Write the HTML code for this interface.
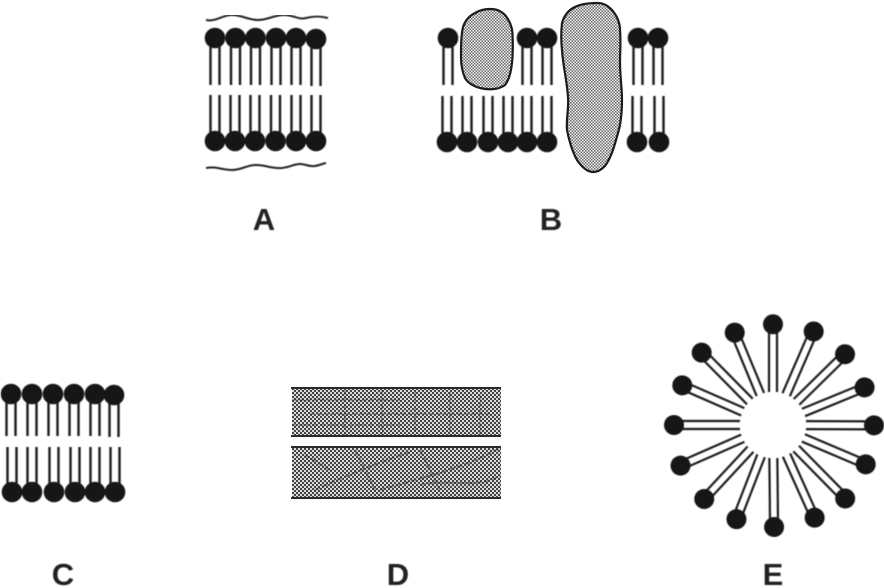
<!DOCTYPE html>
<html><head><meta charset="utf-8"><style>html,body{margin:0;padding:0;background:#fff}svg{display:block}text{font-family:"Liberation Sans",Arial,sans-serif;font-weight:bold;font-size:31px;fill:#222;text-anchor:middle}</style></head>
<body>
<svg width="884" height="588" viewBox="0 0 884 588" xmlns="http://www.w3.org/2000/svg">
<defs>
<filter id="soft" x="0" y="0" width="100%" height="100%"><feGaussianBlur stdDeviation="0.45"/></filter>
<pattern id="blob" width="3" height="3" patternUnits="userSpaceOnUse"><rect width="3" height="3" fill="#f0f0f0"/><rect width="1.5" height="1.5" fill="#6e6e6e"/><rect x="1.5" y="1.5" width="1.5" height="1.5" fill="#6e6e6e"/></pattern>
<pattern id="band" width="4" height="4" patternUnits="userSpaceOnUse"><rect width="4" height="4" fill="#dadada"/><rect width="2" height="2" fill="#444"/><rect x="2" y="2" width="2" height="2" fill="#444"/></pattern>
<g id="up"><line x1="-4.5" y1="0" x2="-4.5" y2="47" stroke="#1c1c1c" stroke-width="2.4"/><line x1="4.5" y1="0" x2="4.5" y2="47" stroke="#1c1c1c" stroke-width="2.4"/><circle r="10.3" fill="#151515"/></g>
<g id="dn"><line x1="-4.5" y1="0" x2="-4.5" y2="-46" stroke="#1c1c1c" stroke-width="2.4"/><line x1="4.5" y1="0" x2="4.5" y2="-46" stroke="#1c1c1c" stroke-width="2.4"/><circle r="10.3" fill="#151515"/></g>
<g id="dnc"><line x1="-4.5" y1="0" x2="-4.5" y2="-45" stroke="#1c1c1c" stroke-width="2.4"/><line x1="4.5" y1="0" x2="4.5" y2="-45" stroke="#1c1c1c" stroke-width="2.4"/><circle r="10.3" fill="#151515"/></g>
<g id="upc"><line x1="-4.5" y1="0" x2="-4.5" y2="42" stroke="#1c1c1c" stroke-width="2.4"/><line x1="4.5" y1="0" x2="4.5" y2="42" stroke="#1c1c1c" stroke-width="2.4"/><circle r="10.3" fill="#151515"/></g>
</defs>
<g filter="url(#soft)">
<!-- A -->
<path d="M206 20 C216 22 222 15 232 15 S248 20 258 20 S274 15 284 15 S298 20 306 18 S320 16 328 18" fill="none" stroke="#222" stroke-width="2"/>
<path d="M206 168 C216 166 222 170 232 170 S246 165 256 165 S272 169 282 168 S296 162 306 165 S320 164 326 163" fill="none" stroke="#222" stroke-width="2"/>
<use href="#up" x="215" y="38"/><use href="#up" x="235.5" y="38"/><use href="#up" x="255.5" y="38"/><use href="#up" x="276" y="38"/><use href="#up" x="296" y="38"/><use href="#up" x="316" y="39"/>
<use href="#dn" x="215" y="141"/><use href="#dn" x="235" y="141"/><use href="#dn" x="255" y="141"/><use href="#dn" x="275.5" y="141"/><use href="#dn" x="296" y="141"/><use href="#dn" x="316" y="141"/>
<text x="264" y="230">A</text>

<!-- B -->
<use href="#up" x="448" y="38"/><use href="#up" x="527" y="38"/><use href="#up" x="547" y="38"/><use href="#up" x="638" y="38"/><use href="#up" x="658" y="38"/>
<use href="#dn" x="447" y="142"/><use href="#dn" x="467" y="142"/><use href="#dn" x="488" y="142"/><use href="#dn" x="508" y="142"/><use href="#dn" x="527" y="142"/><use href="#dn" x="547" y="142"/><use href="#dn" x="637" y="142"/><use href="#dn" x="659" y="142"/>
<text x="551" y="230">B</text>

<!-- C -->
<use href="#upc" x="11" y="394"/><use href="#upc" x="32" y="394"/><use href="#upc" x="53" y="394"/><use href="#upc" x="74" y="394"/><use href="#upc" x="95" y="394"/><use href="#upc" x="114" y="395"/>
<use href="#dnc" x="12" y="492"/><use href="#dnc" x="32" y="492"/><use href="#dnc" x="54" y="492"/><use href="#dnc" x="75" y="492"/><use href="#dnc" x="95" y="492"/><use href="#dnc" x="115" y="492"/>
<text x="63" y="585">C</text>
<text x="398" y="585">D</text>

<!-- E -->
<g stroke="#1c1c1c" stroke-width="2.2" fill="#151515">
<g transform="translate(773 425)"><path d="M-4 -33V-100M4 -33V-100"/><circle cy="-100.7" r="10" stroke="none"/></g>
<g transform="translate(773 425) rotate(23.5)"><path d="M-4 -33V-100M4 -33V-100"/><circle cy="-102" r="10" stroke="none"/></g>
<g transform="translate(773 425) rotate(45.5)"><path d="M-4 -33V-100M4 -33V-100"/><circle cy="-101" r="10" stroke="none"/></g>
<g transform="translate(773 425) rotate(67.7)"><path d="M-4 -33V-98M4 -33V-98"/><circle cy="-99" r="10" stroke="none"/></g>
<g transform="translate(773 425) rotate(90.2)"><path d="M-4 -33V-100M4 -33V-100"/><circle cy="-101" r="10" stroke="none"/></g>
<g transform="translate(773 425) rotate(113)"><path d="M-4 -33V-100M4 -33V-100"/><circle cy="-100.7" r="10" stroke="none"/></g>
<g transform="translate(773 425) rotate(135.5)"><path d="M-4 -33V-102M4 -33V-102"/><circle cy="-103" r="10" stroke="none"/></g>
<g transform="translate(773 425) rotate(155.8)"><path d="M-4 -33V-100M4 -33V-100"/><circle cy="-101.6" r="10" stroke="none"/></g>
<g transform="translate(773 425) rotate(179.4)"><path d="M-4 -33V-100M4 -33V-100"/><circle cy="-102" r="10" stroke="none"/></g>
<g transform="translate(773 425) rotate(201.2)"><path d="M-4 -33V-100M4 -33V-100"/><circle cy="-101" r="10" stroke="none"/></g>
<g transform="translate(773 425) rotate(222.9)"><path d="M-4 -33V-100M4 -33V-100"/><circle cy="-101" r="10" stroke="none"/></g>
<g transform="translate(773 425) rotate(246.3)"><path d="M-4 -33V-100M4 -33V-100"/><circle cy="-101" r="10" stroke="none"/></g>
<g transform="translate(773 425) rotate(270)"><path d="M-4 -33V-98M4 -33V-98"/><circle cy="-99" r="10" stroke="none"/></g>
<g transform="translate(773 425) rotate(293.6)"><path d="M-4 -33V-98M4 -33V-98"/><circle cy="-99" r="10" stroke="none"/></g>
<g transform="translate(773 425) rotate(315.4)"><path d="M-4 -33V-100M4 -33V-100"/><circle cy="-101.6" r="10" stroke="none"/></g>
<g transform="translate(773 425) rotate(337.5)"><path d="M-4 -33V-99M4 -33V-99"/><circle cy="-100" r="10" stroke="none"/></g>
</g>
<text x="773" y="585">E</text>
</g>

<!-- B proteins: patterned fill kept unblurred so the stipple stays visible -->
<path d="M490 9 C497 9 501 11 505 15 C510 21 512 27 512.500 33 C513 44 513 54 512 63 C511 72 509 80 505 85 C498 90 488 90 480 88 C473 86 468 83 465 78 C462 71 461 64 461 57 C461 46 461 36 463 27 C465 21 469 16 475 13 C480 10 485 9 490 9Z" fill="url(#blob)" stroke="#1c1c1c" stroke-width="2.2"/>
<path d="M597 3 C604 3 608 6 612 10 C617 16 620 23 620 30 C621 41 620 52 620 63 C620 75 622 88 622 100 C622 112 621 123 618 133 C615 144 612 155 607 163 C603 169 598 172 593 172 C587 172 581 166 577 160 C572 151 569 140 567 130 C566 119 569 108 568 97 C567 81 563 66 562 50 C561 41 561 32 562 23 C564 16 568 11 573 8 C580 4 589 3 597 3Z" fill="url(#blob)" stroke="#1c1c1c" stroke-width="2.2"/>

<!-- D -->
<rect x="292" y="388" width="209" height="48" fill="url(#band)"/>
<rect x="292" y="447" width="209" height="51" fill="url(#band)"/>
<path d="M291 388H501M291 436H501M291 447H501M291 498H501" stroke="#2a2a2a" stroke-width="2" fill="none"/>
<path d="M292 400H400M310 414H490M292 425H400M345 390V435M382 390V436M415 392V435M450 392V435M480 395V435" stroke="#3a3a3a" stroke-width="2" stroke-dasharray="5 2" fill="none" opacity=".4"/>
<path d="M315 490C340 478 380 462 410 452M330 470L305 455M380 490C420 478 460 470 500 448M420 485C450 478 480 490 500 475M355 450L375 490M420 450L440 490" stroke="#333" stroke-width="2.2" stroke-dasharray="6 2" fill="none" opacity=".45"/>
</svg>
</body></html>
